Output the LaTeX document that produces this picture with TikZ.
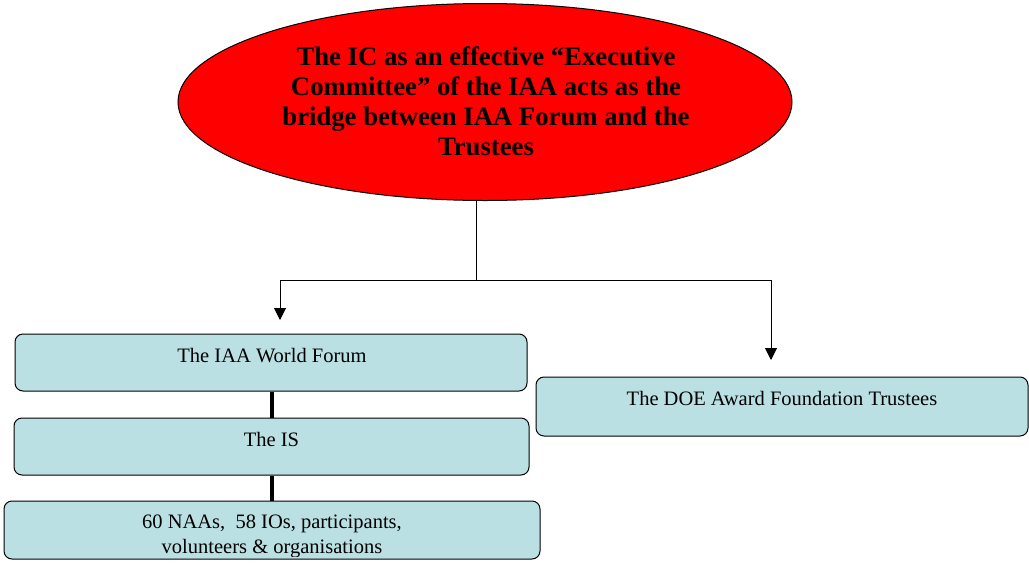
\documentclass[tikz,border=0pt]{standalone}
\usepackage{fontspec}
\setmainfont{Liberation Serif}
\usetikzlibrary{shapes.geometric,arrows.meta}
\definecolor{boxfill}{RGB}{187,224,227}
\begin{document}
\begin{tikzpicture}[x=1pt,y=-1pt,
  orgbox/.style={draw, line width=1pt, rounded corners=8pt, fill=boxfill, inner sep=0},
  lbl/.style={font=\fontsize{20.5}{25}\selectfont, align=center, inner sep=0, anchor=base},
  link/.style={line width=1pt, -{Triangle[length=12pt,width=12pt]}},
  bar/.style={line width=4pt}]
\useasboundingbox (0,0) rectangle (1029,563);
\clip (0,0) rectangle (1029,563);

% top ellipse: the IC
\node[ellipse, draw, line width=1pt, fill=red, minimum width=614pt, minimum height=197pt, inner sep=0]
  (ic) at (485,102) {};
\node[font=\bfseries\fontsize{26.7}{30}\selectfont, align=center, inner sep=0] (ictext) at (486,101)
  {The IC as an effective “Executive\\Committee” of the IAA acts as the\\bridge between IAA Forum and the\\Trustees};

% boxes
\node[orgbox, minimum width=512pt, minimum height=57pt] (wf) at (271,362.5) {};
\node[orgbox, minimum width=515pt, minimum height=57pt] (is) at (271.5,446.5) {};
\node[orgbox, minimum width=536pt, minimum height=58pt] (naa) at (272,530) {};
\node[orgbox, minimum width=492pt, minimum height=59pt] (doe) at (782,406.5) {};

% box labels
\node[lbl] (wftext) at (272,362) {The IAA World Forum};
\node[lbl] (istext) at (271.5,446) {The IS};
\node[lbl] (doetext) at (782,405) {The DOE Award Foundation Trustees};
\begin{scope}
  \clip (5,502) rectangle (539,556);
  \node[lbl, anchor=base] (naatext1) at (272,528) {60 NAAs,\ \ 58 IOs, participants,};
  \node[lbl, anchor=base] (naatext2) at (272,553) {volunteers \& organisations};
\end{scope}

% connectors from the IC
\coordinate (hub) at (476,280);
\coordinate (wfin) at (280,320);
\coordinate (doein) at (771,360);
\draw[line width=1pt] (ic.south -| hub) -- (hub);
\draw[link] (hub) -| (wfin);
\draw[link] (hub) -| (doein);

% thick links down the left column
\draw[bar] ([xshift=1pt]wf.south) -- ([xshift=0.5pt]is.north);
\draw[bar] ([xshift=0.5pt]is.south) -- (naa.north);
\end{tikzpicture}
\end{document}
